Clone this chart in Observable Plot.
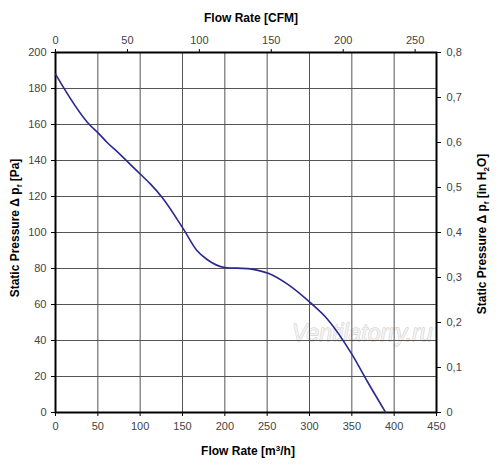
<!DOCTYPE html>
<html>
<head>
<meta charset="utf-8">
<script src="https://cdn.jsdelivr.net/npm/d3@7"></script>
<script src="https://cdn.jsdelivr.net/npm/@observablehq/plot@0.6"></script>
<style>
  html, body { margin: 0; padding: 0; background: #fff; }
  #chart { width: 500px; height: 473px; }
</style>
</head>
<body>
<div id="chart"></div>
<script>
// Flow rate in m³/h and static pressure in Pa
const flowRate = [0, 40, 50, 61, 75, 88, 100, 112, 126, 151, 167, 179, 200, 230, 238, 252, 274, 301, 321, 350, 368, 390];
const pressure = [188, 160, 155.5, 150, 144, 138, 132.5, 127, 119.5, 102, 90, 85, 80.6, 79.8, 79.1, 77.2, 71.3, 61, 52, 32.4, 17.5, 0];

// Tick labels
const flowTicks = [0, 50, 100, 150, 200, 250, 300, 350, 400, 450];       // m³/h
const pressureTicks = [0, 20, 40, 60, 80, 100, 120, 140, 160, 180, 200]; // Pa
const cfmTicks = [0, 50, 100, 150, 200, 250];                           // CFM
const inH2OTicks = [0, 0.1, 0.2, 0.3, 0.4, 0.5, 0.6, 0.7, 0.8];          // in H2O

const M3H_PER_CFM = 1.699;
const PA_PER_INH2O = 250; // right axis aligned so that 0,8 sits at 200 Pa

const data = flowRate.map((f, i) => ({flow: f, pressure: pressure[i]}));

const fmtComma = v => v === 0 ? "0" : v.toFixed(1).replace(".", ",");

const chart = Plot.plot({
  width: 500,
  height: 473,
  marginLeft: 55,
  marginRight: 64,
  marginTop: 52,
  marginBottom: 61,
  style: {fontFamily: "'Liberation Sans', Arial, sans-serif", background: "#fff"},
  x: {domain: [0, 450]},
  y: {domain: [0, 200]},
  marks: [
    Plot.text(["Ventilatorry.ru"], {
      frameAnchor: "bottom-right", textAnchor: "end", dx: -4, dy: -72,
      fontSize: 23, fontStyle: "italic", fill: "#f2f2f2", stroke: "#c4c4c4", strokeWidth: 0.8
    }),
    Plot.gridX(flowTicks, {stroke: "#555", strokeOpacity: 1, strokeWidth: 1}),
    Plot.gridY(pressureTicks, {stroke: "#555", strokeOpacity: 1, strokeWidth: 1}),
    Plot.frame({stroke: "#000", strokeWidth: 2}),
    Plot.line(data, {x: "flow", y: "pressure", stroke: "#28288f", strokeWidth: 1.6, curve: "monotone-x"}),
    Plot.axisX(flowTicks, {anchor: "bottom", tickSize: 4, tickPadding: 6, fontSize: 11, fill: "#444", stroke: "#000", label: null}),
    Plot.axisX(cfmTicks.map(c => c * M3H_PER_CFM), {anchor: "top", tickSize: 4, tickPadding: 5, fontSize: 11, fill: "#444", stroke: "#000", label: null,
      tickFormat: d => String(Math.round(d / M3H_PER_CFM))}),
    Plot.axisY(pressureTicks, {anchor: "left", tickSize: 4, tickPadding: 5, fontSize: 11, fill: "#444", stroke: "#000", label: null}),
    Plot.axisY(inH2OTicks.map(v => v * PA_PER_INH2O), {anchor: "right", tickSize: 4, tickPadding: 6, fontSize: 11, fill: "#444", stroke: "#000", label: null,
      tickFormat: d => fmtComma(d / PA_PER_INH2O)})
  ]
});

document.getElementById("chart").appendChild(chart);

// Axis titles (with subscripts)
const svg = d3.select(chart);
const titleStyle = s => s.attr("font-size", 12).attr("font-weight", "bold").attr("fill", "#000")
  .attr("font-family", "'Liberation Sans', Arial, sans-serif").attr("text-anchor", "middle");

svg.append("text").call(titleStyle).attr("x", 251).attr("y", 22).text("Flow Rate [CFM]");

const bottom = svg.append("text").call(titleStyle).attr("x", 248).attr("y", 455);
bottom.append("tspan").text("Flow Rate [m");
bottom.append("tspan").attr("font-size", 8).attr("dy", -4).text("3");
bottom.append("tspan").attr("dy", 4).text("/h]");

function pressureTitle(x, y, unit) {
  const t = svg.append("text").call(titleStyle).attr("transform", `translate(${x},${y}) rotate(-90)`);
  t.append("tspan").text("Static Pressure Δ p");
  t.append("tspan").attr("font-size", 8).attr("dy", 3).text("f");
  t.append("tspan").attr("dy", -3).text(" [" );
  unit(t);
  t.append("tspan").text("]");
}
pressureTitle(19, 228, t => t.append("tspan").text("Pa"));
pressureTitle(486, 234, t => {
  t.append("tspan").text("in H");
  t.append("tspan").attr("font-size", 8).attr("dy", 3).text("2");
  t.append("tspan").attr("dy", -3).text("O");
});
</script>
</body>
</html>
